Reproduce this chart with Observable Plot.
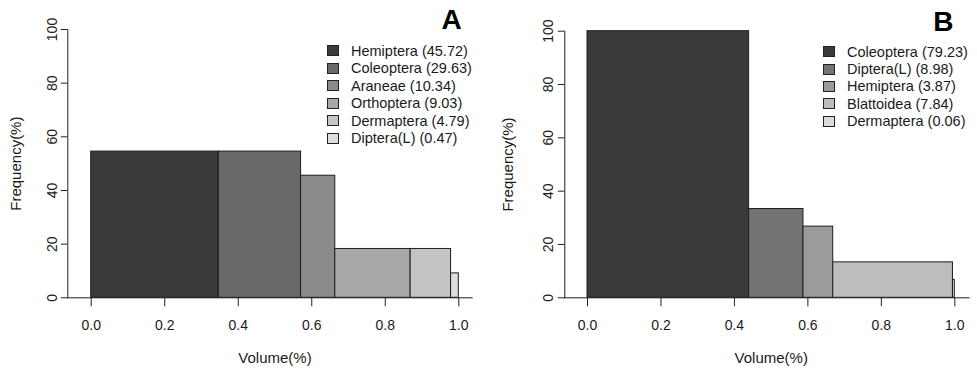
<!DOCTYPE html>
<html><head><meta charset="utf-8">
<script src="https://cdn.jsdelivr.net/npm/d3@7"></script>
<script src="https://cdn.jsdelivr.net/npm/@observablehq/plot@0.6"></script>
<style>
body{margin:0;background:#fff;}
#wrap{position:relative;width:977px;height:373px;overflow:hidden;font-family:"Liberation Sans",Arial,sans-serif;}
.panel{position:absolute;top:0;}
.legend{position:absolute;font-size:14.5px;color:#1a1a1a;font-family:"Liberation Sans",Arial,sans-serif;}
.legend .row{display:flex;align-items:center;white-space:nowrap;}
.legend .sw{width:12px;height:11px;border:1px solid #222;box-sizing:border-box;}
</style></head>
<body><div id="wrap"></div>
<script>
// Panel A data
const catsA = ["Hemiptera","Coleoptera","Araneae","Orthoptera","Dermaptera","Diptera(L)"];
const iriA = [45.72,29.63,10.34,9.03,4.79,0.47];
const volA = [0.347,0.224,0.093,0.205,0.110,0.021];
const freqA = [54.5,54.5,45.5,18.2,18.2,9.1];
// Panel B data
const catsB = ["Coleoptera","Diptera(L)","Hemiptera","Blattoidea","Dermaptera"];
const iriB = [79.23,8.98,3.87,7.84,0.06];
const volB = [0.440,0.148,0.081,0.326,0.005];
const freqB = [100,33.3,26.7,13.3,6.7];
// ticks
const xTicks = [0,0.2,0.4,0.6,0.8,1.0];
const yTicks = [0,20,40,60,80,100];
// palettes
const paletteA = ["#3a3a3a","#696969","#8b8b8b","#a8a8a8","#c4c4c4","#dedede"];
const paletteB = ["#3a3a3a","#737373","#9b9b9b","#bdbdbd","#dcdcdc"];

const FONT = '"Liberation Sans", Arial, sans-serif';
const wrap = document.getElementById("wrap");

function panel(cfg){
  const {cats, vol, freq, palette, letter, left, width, fl, fr, ft, fb, xr, ytPad, letterDx, yTitleDx, xTitleDx, legLeft, legTop, legStep, legGap, iri} = cfg;
  let acc = 0;
  const rows = cats.map((c,i)=>{const r={cat:c,x1:acc,x2:acc+vol[i],freq:freq[i]}; acc+=vol[i]; return r;});
  const chart = Plot.plot({
    width, height:373,
    marginLeft: fl, marginRight: width-fr, marginTop: ft, marginBottom: 373-fb,
    style:{fontFamily:FONT, fontSize:"14px", background:"transparent", color:"#1a1a1a", overflow:"visible"},
    x:{domain:[0,1], range:xr},
    y:{domain:[0,100], range:[fb, ft]},
    color:{domain:cats, range:palette},
    marks:[
      Plot.rect(rows,{x1:"x1",x2:"x2",y1:0,y2:"freq",fill:"cat",stroke:"#1e1e1e",strokeWidth:1}),
      Plot.frame({anchor:"left", stroke:"#222"}),
      Plot.frame({anchor:"bottom", stroke:"#222"}),
      Plot.axisX({ticks:xTicks, tickFormat:d3.format(".1f"), tickSize:9, tickPadding:13, label:null, stroke:"#222", fill:"#1a1a1a", fontSize:"14px"}),
      Plot.axisY({ticks:yTicks, tickFormat:d=>String(d), tickSize:6.5, tickPadding:ytPad, tickRotate:-90, textAnchor:"middle", lineAnchor:"bottom", label:null, stroke:"#222", fill:"#1a1a1a", fontSize:"14px"}),
      Plot.text([letter],{text:d=>d, frameAnchor:"top-right", dx:letterDx, dy:-0.5, textAnchor:"middle", lineAnchor:"bottom", fontSize:"28px", fontWeight:"bold", fill:"#000"}),
      Plot.text(["Frequency(%)"],{text:d=>d, frameAnchor:"left", rotate:-90, dx:yTitleDx, textAnchor:"middle", lineAnchor:"middle", fontSize:"15px", fill:"#1a1a1a"}),
      Plot.text(["Volume(%)"],{text:d=>d, frameAnchor:"bottom", dx:xTitleDx, dy:65, textAnchor:"middle", lineAnchor:"bottom", fontSize:"15px", fill:"#1a1a1a"})
    ]
  });
  const div = document.createElement("div");
  div.className = "panel";
  div.style.left = left+"px";
  div.appendChild(chart);
  wrap.appendChild(div);
  const leg = document.createElement("div");
  leg.className = "legend";
  leg.style.left = legLeft+"px";
  leg.style.top = legTop+"px";
  cats.forEach((c,i)=>{
    const r = document.createElement("div");
    r.className="row"; r.style.height = legStep+"px";
    const sw = document.createElement("span"); sw.className="sw"; sw.style.background = palette[i]; sw.style.marginRight = legGap+"px";
    const t = document.createElement("span"); t.textContent = `${c} (${iri[i].toFixed(2)})`;
    r.appendChild(sw); r.appendChild(t); leg.appendChild(r);
  });
  wrap.appendChild(leg);
}

panel({cats:catsA, vol:volA, freq:freqA, palette:paletteA, iri:iriA, letter:"A", left:0, width:488,
  fl:67.3, fr:471.7, ft:29, fb:297.3, xr:[90.7,458.3], ytPad:4, letterDx:-20.7, yTitleDx:-51.3, xTitleDx:5,
  legLeft:326.5, legTop:42.2, legStep:17.5, legGap:12.5});
panel({cats:catsB, vol:volB, freq:freqB, palette:paletteB, iri:iriB, letter:"B", left:487, width:490,
  fl:77.3, fr:481.7, ft:30.7, fb:297.3, xr:[100,467.3], ytPad:5.2, letterDx:-25.8, yTitleDx:-56.3, xTitleDx:4.2,
  legLeft:822.5, legTop:43, legStep:17.4, legGap:12.5});
</script>
</body></html>
